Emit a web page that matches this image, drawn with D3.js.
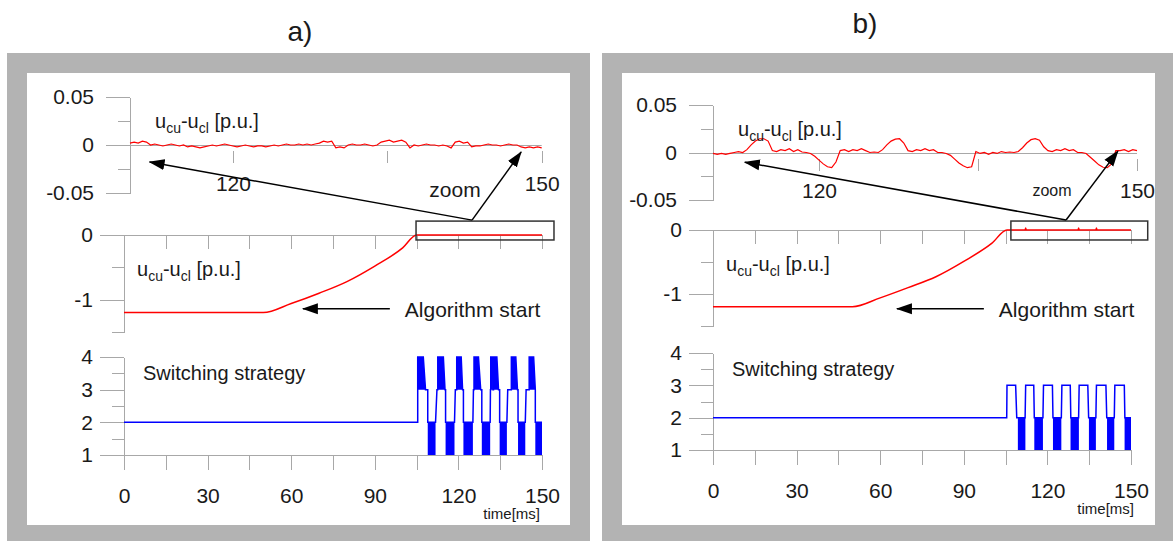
<!DOCTYPE html>
<meta charset="utf-8">
<script src="https://d3js.org/d3.v7.min.js"></script>
<style>
body { margin: 0; background: #fff; }
svg text { font-family: "Liberation Sans", Arial, sans-serif; fill: #1a1a1a; }
.axis path, .axis line { stroke: #a8a8a8; stroke-width: 1; fill: none; shape-rendering: crispEdges; }
.axis text { font-size: 21px; fill: #1a1a1a; }
</style>
<div id="plot"></div>
<script>
// ---- data ----
// zoomed trace u_cu-u_cl, sampled from 110 ms every 0.4 ms, in milli p.u.
var zoomStartMs = 110, zoomStepMs = 0.4;
var zoomA = [2,3,2,4,3, 0,1,0,-1,0,1,0,-1,0, -2,-1,-2,-3,-2,-1, 0,-1,0,1,0,
  -1,-2,-1,0,-1,-2,-1,-1,-2,-1,0,-1, 0,1,0,0,1,0,1,0,1, 2,4,3,4, -3,-2,-3,
  0,1,0,0,1,0,-1,0, 3,4,5,3,4,5,3, -3, 0,-1,0,1,0,0,-1,0,-1, -3, 3,4,2,3,
  -2,-1,-1, 0,1,0,0,-1,0,1,0,0, -2,-3,-2,-3,-2,-3];
var zoomB = [-1,-2,-1,-2,-1, 0,1,0, 3,8,12,14.5,14.5,12,2, 1,3,2,4,1,3, 0.5,0,
  -1,-4,-8,-12,-15,-16,-10,2, 3,1,3,2,4,2, 0,0.5,0, 3,8,12,14,14.5,10,2,
  1,3,2,4,2,3, 0,0, -1,-3,-7,-11,-14,-16,-15,1, -1,0,-2,0,-1,1, 0,0.5,0,
  1,5,10,13.5,14.5,13,6,2, 1,3,2,4,2,3, 0,0, -1,-5,-9,-13,-15.5,-16,-12,2, 2,3,1,3,2];

// capacitor voltage difference over the full run [ms, p.u.]
var rampA = [[0,-1.2],[50,-1.2],[60,-1.06],[70,-0.9],[80,-0.72],[90,-0.48],[100,-0.2],[105,0],[150,0]];
var rampB = [[0,-1.2],[50,-1.2],[60,-1.06],[70,-0.9],[80,-0.73],[90,-0.49],[100,-0.21],[105.5,0],
  [112,0],[112.2,0.03],[112.4,0],[131,0],[131.2,0.03],[131.4,0],[137.4,0],[137.6,0.03],[137.8,0],[150,0]];

// switching strategy outline [ms, level]
var stepA = [[0,2],[105.4,2],[105.4,4],[107.4,4],[108.2,3],[109,3],[109,2],[111.8,2],[112.3,3],[112.6,3],
  [112.6,4],[114.6,4],[115.2,3],[115.4,3],[115.4,2],[118.6,2],[118.9,3],[119.4,3],[119.4,4],[121,4],
  [121.5,3],[121.8,3],[121.8,2],[125.2,2],[125.4,3],[125.6,3],[125.6,4],[127.2,4],[128,3],[128.4,3],
  [128.4,2],[131.4,2],[131.5,3],[131.6,3],[131.6,4],[132.2,4],[132.4,3],[132.6,3],[132.6,4],[133.8,4],
  [134.4,3],[134.8,3],[134.8,2],[137.4,2],[137.7,3],[139,3],[139,4],[140.6,4],[141.2,3],[141.4,3],
  [141.4,2],[144,2],[144.3,3],[145.4,3],[145.4,4],[147,4],[147.6,3],[147.6,2],[150,2]];
var stepB = [[0,2],[105.4,2],[105.5,3],[108.6,3],[109,2],[109.4,2],[112,2],[112.2,3],[115.1,3],[115.3,2],
  [118.4,2],[118.6,3],[121.8,3],[122,2],[125,2],[125.2,3],[128.2,3],[128.4,2],[131.2,2],[131.4,3],
  [134.5,3],[134.8,2],[137.4,2],[137.6,3],[141,3],[141.3,2],[144,2],[144.2,3],[147.6,3],[147.8,2],[150,2]];

// fast switching between 3 and 4: [start, end at 4, end at 3] ms
var upperBandsA = [[105.4,107.4,108.2],[112.6,114.6,115.2],[119.4,121,121.5],[125.6,127.2,128],
  [131.6,132.2,132.4],[132.6,133.8,134.4],[139,140.6,141.2],[145.4,147,147.6]];
// fast switching between 1 and 2: [start, end] ms
var lowerBandsA = [[109,111.8],[115.4,118.6],[121.8,125.2],[128.4,131.4],[134.8,137.4],[141.4,144],[147.6,150]];
var lowerBandsB = [[109.4,112.1],[115.3,118.4],[122,125],[128.3,131.3],[134.9,137.4],[141.4,144],[147.7,150]];

// ticks
var timeTicks = [0,15,30,45,60,75,90,105,120,135,150];
var timeLabels = [0,30,60,90,120,150];
var zoomTimeTicks = [120,135,150];
var zoomTimeLabels = [120,150];
var zoomValTicks = [-0.05,-0.025,0,0.025,0.05];
var zoomValLabels = [-0.05,0,0.05];
var rampTicks = [0,-0.5,-1,-1.5];
var rampLabels = [0,-1];
var levelTicks = [1,1.5,2,2.5,3,3.5,4];
var levelLabels = [1,2,3,4];

// ---- layout ----
var W = 1173, H = 541;
var panels = [
  { title: "a)", titleX: 300, titleY: 41, frame: [7, 53, 583, 520],
    time: [124, 542], zoomRange: [130, 541.7], zoomY: [193, 97],
    rampY: [332, 235], stepY: [455, 357],
    zoom: zoomA, ramp: rampA, step: stepA, upper: upperBandsA, lower: lowerBandsA,
    box: [104.8, 154.3, 0.215, -0.077], tail: [124.9, 0.23],
    heads: [[111.9, -0.0177], [148.0, -0.0073]],
    algo: [95.4, 64.2, -1.14], zoomText: [455, 197, 21],
    zoomLabelY: 191, timeLabelY: 503, timeUnitX: 540 },
  { title: "b)", titleX: 865, titleY: 33, frame: [602, 53, 600, 520],
    time: [713, 1131], zoomRange: [713, 1137], zoomY: [200, 105],
    rampY: [326, 230], stepY: [450, 353],
    zoom: zoomB, ramp: rampB, step: stepB, upper: [], lower: lowerBandsB,
    box: [106.9, 156, 0.14, -0.156], tail: [126.7, 0.156],
    heads: [[113.0, -0.0102], [148.2, 0.0014]],
    algo: [97.2, 66, -1.23], zoomText: [1052, 196, 16],
    zoomLabelY: 198, timeLabelY: 498, timeUnitX: 1134 }
];

// plain hyphen for negatives, as in the original figure
function num(d) { return String(d); }

var svg = d3.select("#plot").append("svg")
  .attr("width", W).attr("height", H);

svg.append("defs").append("marker")
  .attr("id", "head")
  .attr("viewBox", "0 -6 16 12")
  .attr("markerUnits", "userSpaceOnUse")
  .attr("markerWidth", 16).attr("markerHeight", 12)
  .attr("refX", 15).attr("refY", 0)
  .attr("orient", "auto")
  .append("path").attr("d", "M0,-5.5L16,0L0,5.5Z").attr("fill", "#000");

function voltLabel(g, x, y) {
  var t = g.append("text").attr("x", x).attr("y", y).style("font-size", "20px");
  t.append("tspan").text("u");
  t.append("tspan").attr("dy", 5).style("font-size", "14px").text("cu");
  t.append("tspan").attr("dy", -5).text("-u");
  t.append("tspan").attr("dy", 5).style("font-size", "14px").text("cl");
  t.append("tspan").attr("dy", -5).text(" [p.u.]");
}

function yAxis(g, scale, x, ticks, labels, pad) {
  g.append("g").attr("class", "axis")
    .attr("transform", "translate(" + x + ",0)")
    .call(d3.axisLeft(scale).tickValues(ticks.filter(function(v) { return labels.indexOf(v) < 0; }))
      .tickSize(12).tickSizeOuter(0).tickFormat(""));
  g.append("g").attr("class", "axis")
    .attr("transform", "translate(" + x + ",0)")
    .call(d3.axisLeft(scale).tickValues(labels).tickSize(24).tickSizeOuter(0)
      .tickPadding(pad).tickFormat(num));
}

panels.forEach(function(p) {
  var g = svg.append("g");

  svg.append("text").attr("x", p.titleX).attr("y", p.titleY)
    .attr("text-anchor", "middle").style("font-size", "28px").text(p.title);

  g.append("rect").attr("x", p.frame[0]).attr("y", p.frame[1])
    .attr("width", p.frame[2]).attr("height", p.frame[3]).attr("fill", "#b3b3b3");
  g.append("rect").attr("x", p.frame[0] + 20).attr("y", p.frame[1] + 20)
    .attr("width", Math.min(p.frame[2] - 40, W - 18 - p.frame[0] - 20)).attr("height", 452)
    .attr("fill", "#fff");

  var x = d3.scaleLinear().domain([0, 150]).range(p.time);
  var xz = d3.scaleLinear().domain([110, 150]).range(p.zoomRange);
  var yz = d3.scaleLinear().domain([-0.05, 0.05]).range(p.zoomY);
  var yr = d3.scaleLinear().domain([-1.5, 0]).range(p.rampY);
  var ys = d3.scaleLinear().domain([1, 4]).range(p.stepY);

  // ---- zoomed trace ----
  yAxis(g, yz, p.zoomRange[0], zoomValTicks, zoomValLabels, 12);
  g.append("line").attr("class", "axis")
    .attr("x1", p.zoomRange[0]).attr("x2", p.zoomRange[1])
    .attr("y1", Math.round(yz(0)) + 0.5).attr("y2", Math.round(yz(0)) + 0.5)
    .attr("stroke", "#a8a8a8");
  var zx = g.append("g").attr("class", "axis")
    .attr("transform", "translate(0," + (yz(0) + 6) + ")")
    .call(d3.axisBottom(xz).tickValues(zoomTimeTicks).tickSize(12).tickPadding(12)
      .tickFormat(function(d) { return zoomTimeLabels.indexOf(d) >= 0 ? d : ""; }));
  zx.select(".domain").remove();
  zx.selectAll("text").attr("dy", null)
    .attr("y", p.zoomLabelY - yz(0) - 6);

  g.append("path")
    .datum(p.zoom)
    .attr("fill", "none").attr("stroke", "#ff0000").attr("stroke-width", 1.2)
    .attr("d", d3.line()
      .x(function(d, i) { return xz(zoomStartMs + i * zoomStepMs); })
      .y(function(d) { return yz(d / 1000); }));
  voltLabel(g, p.zoomRange[0] + 25, yz(0.025) + 7);

  // ---- ramp ----
  yAxis(g, yr, p.time[0], rampTicks, rampLabels, 7);
  g.append("g").attr("class", "axis")
    .attr("transform", "translate(0," + yr(0) + ")")
    .call(d3.axisBottom(x).tickValues(timeTicks).tickSize(14).tickSizeOuter(0).tickFormat(""));
  g.append("path")
    .datum(p.ramp)
    .attr("fill", "none").attr("stroke", "#ff0000").attr("stroke-width", 1.5)
    .attr("d", d3.line()
      .curve(d3.curveMonotoneX)
      .x(function(d) { return x(d[0]); })
      .y(function(d) { return yr(d[1]); }));
  voltLabel(g, p.time[0] + 13, yr(-0.5) + 9);

  // zoom box + arrows
  g.append("rect")
    .attr("x", x(p.box[0])).attr("y", yr(p.box[2]))
    .attr("width", x(p.box[1]) - x(p.box[0])).attr("height", yr(p.box[3]) - yr(p.box[2]))
    .attr("fill", "none").attr("stroke", "#333").attr("stroke-width", 1.5);
  p.heads.forEach(function(h) {
    g.append("line")
      .attr("x1", x(p.tail[0])).attr("y1", yr(p.tail[1]))
      .attr("x2", xz(h[0])).attr("y2", yz(h[1]))
      .attr("stroke", "#000").attr("stroke-width", 1.5)
      .attr("marker-end", "url(#head)");
  });
  g.append("text").attr("x", p.zoomText[0]).attr("y", p.zoomText[1])
    .attr("text-anchor", "middle").style("font-size", p.zoomText[2] + "px").text("zoom");

  g.append("line")
    .attr("x1", x(p.algo[0])).attr("y1", yr(p.algo[2]))
    .attr("x2", x(p.algo[1])).attr("y2", yr(p.algo[2]))
    .attr("stroke", "#000").attr("stroke-width", 1.5)
    .attr("marker-end", "url(#head)");
  g.append("text").attr("x", x(p.algo[0]) + 15).attr("y", yr(p.algo[2]) + 8)
    .style("font-size", "21px").text("Algorithm start");

  // ---- switching strategy ----
  yAxis(g, ys, p.time[0], levelTicks, levelLabels, 7);
  var sx = g.append("g").attr("class", "axis")
    .attr("transform", "translate(0," + ys(1) + ")")
    .call(d3.axisBottom(x).tickValues(timeTicks).tickSize(15).tickSizeOuter(0).tickPadding(18)
      .tickFormat(function(d) { return timeLabels.indexOf(d) >= 0 ? d : ""; }));
  sx.selectAll("text").attr("dy", null).attr("y", p.timeLabelY - ys(1));
  g.append("text").attr("x", p.timeUnitX).attr("y", p.timeLabelY + 16)
    .attr("text-anchor", "end").style("font-size", "15px").text("time[ms]");

  g.selectAll(".lowband").data(p.lower).enter().append("rect")
    .attr("x", function(d) { return x(d[0]); })
    .attr("width", function(d) { return x(d[1]) - x(d[0]); })
    .attr("y", ys(2)).attr("height", ys(1) - ys(2))
    .attr("fill", "#0000ff");
  g.selectAll(".upband").data(p.upper).enter().append("path")
    .attr("fill", "#0000ff")
    .attr("d", function(d) {
      return "M" + x(d[0]) + "," + ys(3) + "L" + x(d[0]) + "," + ys(4) +
        "L" + x(d[1]) + "," + ys(4) + "L" + x(d[2]) + "," + ys(3) + "Z";
    });
  g.append("path")
    .datum(p.step)
    .attr("fill", "none").attr("stroke", "#0000ff").attr("stroke-width", 1.5)
    .attr("d", d3.line()
      .x(function(d) { return x(d[0]); })
      .y(function(d) { return ys(d[1]); }));
  g.append("text").attr("x", p.time[0] + 19).attr("y", ys(3.5) + 7)
    .style("font-size", "20px").text("Switching strategy");
});
</script>
